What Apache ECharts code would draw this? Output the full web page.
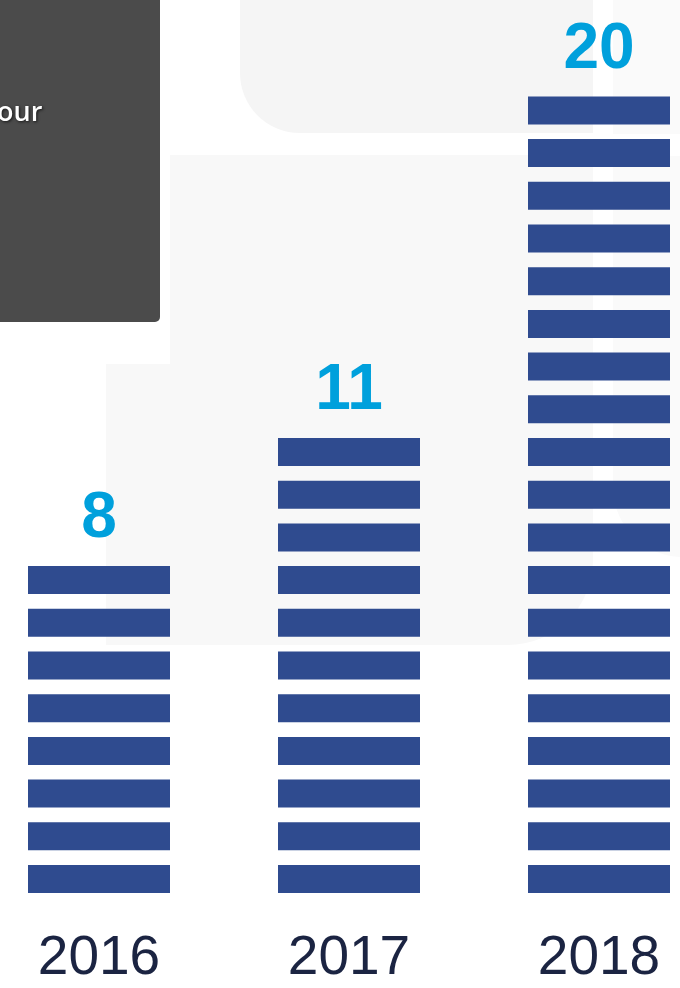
<!DOCTYPE html>
<html>
<head>
<meta charset="utf-8">
<title>blocks</title>
<script src="https://cdn.jsdelivr.net/npm/echarts@6/dist/echarts.min.js"></script>
<style>
	html, body { margin: 0; padding: 0; background: #ffffff; }
	#main { width: 680px; height: 988px; }
</style>
</head>
<body>
<div id="main"></div>
<script>
// categories / values
var years = ['2016', '2017', '2018'];
var values = [8, 11, 20];      // numbers printed above the stacks
var blocks = [8, 11, 19];      // blocks drawn in each stack

var pitch = 42.7;              // px per block (block 28 + gap)
var blockH = 28;

var myChart = echarts.init(document.getElementById('main'));

var option = {
	backgroundColor: '#ffffff',
	animation: false,
	// slide decorations behind the chart
	graphic: [
		{ type: 'rect', z: -10, shape: { x: 613, y: 0, width: 80, height: 134 }, style: { fill: '#fafafa' } },
		{ type: 'rect', z: -10, shape: { x: 613, y: 156, width: 80, height: 401, r: [0, 0, 0, 70] }, style: { fill: '#fafafa' } },
		{ type: 'rect', z: -10, shape: { x: 240, y: -20, width: 353, height: 153, r: [0, 0, 0, 60] }, style: { fill: '#f5f5f5' } },
		{ type: 'rect', z: -10, shape: { x: 170, y: 155, width: 423, height: 490, r: [0, 0, 85, 0] }, style: { fill: '#f8f8f8' } },
		{ type: 'rect', z: -10, shape: { x: 106, y: 364, width: 70, height: 281 }, style: { fill: '#f8f8f8' } },
		{ type: 'rect', z: -9, shape: { x: -10, y: -10, width: 170, height: 332, r: [0, 0, 5, 0] }, style: { fill: '#4b4b4b' } },
		{
			type: 'text', z: -8, left: -3, top: 100,
			style: {
				text: 'our', fill: '#ffffff', font: '600 27px "Open Sans", sans-serif',
				textShadowColor: 'rgba(0,0,0,0.7)', textShadowBlur: 3, textShadowOffsetX: 1, textShadowOffsetY: 1
			}
		}
	],
	grid: {
		outerBoundsMode: 'none',
		containLabel: false,
		left: -26,
		right: -44,
		top: 988 - 87.65 - 20 * pitch,
		bottom: 87.65
	},
	xAxis: {
		type: 'category',
		data: years,
		axisLine: { show: false },
		axisTick: { show: false },
		splitLine: { show: false },
		axisLabel: {
			margin: 31,
			color: '#1b2442',
			fontSize: 55,
			fontFamily: '"Liberation Sans", Arial, sans-serif'
		}
	},
	yAxis: {
		type: 'value',
		min: 0,
		max: 20,
		show: false,
		splitLine: { show: false }
	},
	series: [
		{
			type: 'pictorialBar',
			symbol: 'rect',
			symbolRepeat: true,
			symbolSize: [142, blockH],
			symbolMargin: ((pitch - blockH) / 2) + '!',
			itemStyle: { color: '#2f4b8f' },
			label: {
				show: true,
				position: 'top',
				distance: 7,
				color: '#00a0dc',
				fontSize: 64,
				fontWeight: 'bold',
				fontFamily: '"Liberation Sans", Arial, sans-serif',
				formatter: function (p) {
					return values[p.dataIndex];
				}
			},
			data: blocks
		}
	]
};

myChart.setOption(option, true);
</script>
</body>
</html>
